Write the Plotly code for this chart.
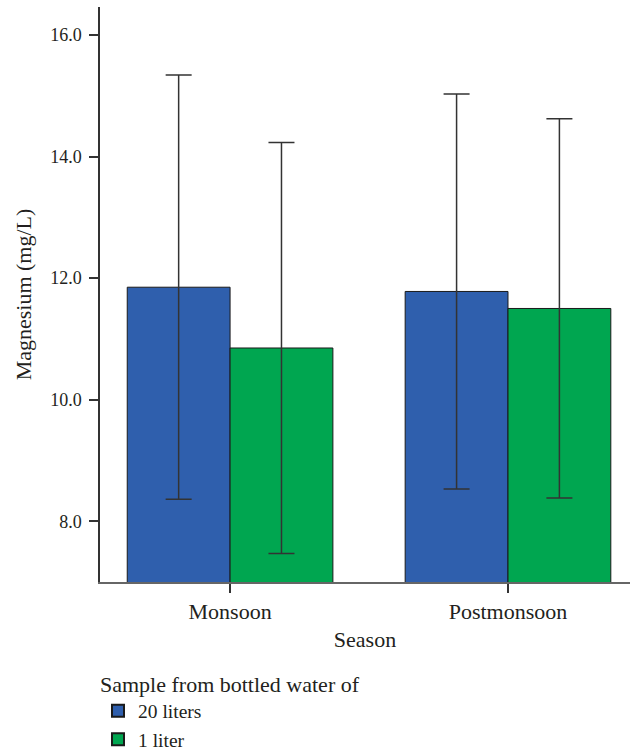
import plotly.graph_objects as go

seasons = ["Monsoon", "Postmonsoon"]
mg_20l = [11.85, 11.78]
err_20l = [3.49, 3.25]
mg_1l = [10.85, 11.50]
err_1l = [3.38, 3.12]
y_ticks = [8.0, 10.0, 12.0, 14.0, 16.0]

FONT = "Liberation Serif"
TXT = "#231f20"
TXT_SIZE = 22
TICK_SIZE = 18
LEG_SIZE = 19.5

W, H = 634, 752
ML, MR, MT, MB = 100, 4, 7, 170
PW, PH = W - ML - MR, H - MT - MB

fig = go.Figure()
fig.add_trace(go.Bar(
    x=seasons, y=mg_20l, name="20 liters",
    marker=dict(color="#2f5fad", line=dict(color="#1a1a1a", width=1)),
    error_y=dict(type="data", array=err_20l, visible=True, color="#333333", thickness=1.5, width=13),
))
fig.add_trace(go.Bar(
    x=seasons, y=mg_1l, name="1 liter",
    marker=dict(color="#00a650", line=dict(color="#1a1a1a", width=1)),
    error_y=dict(type="data", array=err_1l, visible=True, color="#333333", thickness=1.5, width=13),
))

fig.update_layout(
    width=W, height=H,
    margin=dict(l=ML, r=MR, t=MT, b=MB, autoexpand=False),
    paper_bgcolor="white", plot_bgcolor="white",
    barmode="group", bargap=0.26, bargroupgap=0,
    font=dict(family=FONT, size=TXT_SIZE, color=TXT),
    showlegend=True,
    legend=dict(
        orientation="v",
        x=(98 - ML) / PW, xanchor="left",
        y=-(663 - (H - MB)) / PH, yanchor="top",
        title=dict(text="Sample from bottled water of", font=dict(size=TXT_SIZE, family=FONT, color=TXT)),
        font=dict(size=LEG_SIZE, family=FONT, color=TXT),
        traceorder="normal", itemsizing="constant",
        bgcolor="rgba(0,0,0,0)",
    ),
    xaxis=dict(
        title=dict(text="Season", font=dict(size=TXT_SIZE, family=FONT, color=TXT), standoff=8),
        range=[-0.468, 1.439],
        showline=True, linecolor="#666666", linewidth=1.5,
        ticks="outside", ticklen=9, tickcolor="#333333", tickwidth=1.5,
        showgrid=False, zeroline=False,
        tickfont=dict(size=TXT_SIZE, family=FONT, color=TXT),
    ),
    yaxis=dict(
        title=dict(text="Magnesium (mg/L)", font=dict(size=TXT_SIZE, family=FONT, color=TXT), standoff=12),
        range=[7.0, 16.46],
        tickvals=y_ticks, ticktext=[f"{v:.1f}" for v in y_ticks],
        showline=True, linecolor="#333333", linewidth=1.5,
        ticks="outside", ticklen=9, tickcolor="#333333", tickwidth=1.5,
        ticklabelstandoff=4,
        showgrid=False, zeroline=False,
        tickfont=dict(size=TICK_SIZE, family=FONT, color=TXT),
    ),
)

fig.write_html("out.html", config={"displayModeBar": False},
               post_script="document.body.style.margin='0px';")
